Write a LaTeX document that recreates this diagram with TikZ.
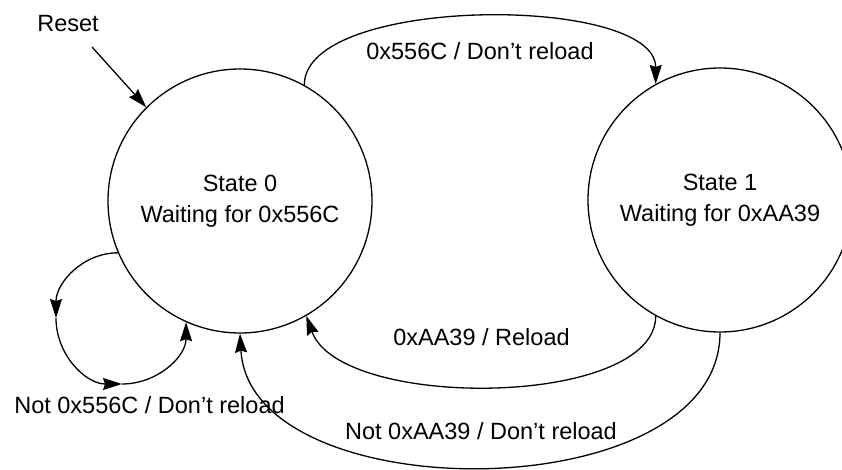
\documentclass[tikz,border=0pt]{standalone}
\usepackage{fontspec}
\setmainfont{Liberation Sans}
\usetikzlibrary{arrows.meta}
\begin{document}
\begin{tikzpicture}[x=1pt,y=1pt,
  every node/.style={font=\fontsize{23.5}{31}\selectfont},
  state/.style={circle,draw,line width=1.3pt,minimum size=264pt,inner sep=0pt,align=center},
  lbl/.style={anchor=base,inner sep=0pt},
  conn/.style={line width=1.3pt,-{Stealth[length=19pt,width=12pt,inset=2pt]}}]
\useasboundingbox (0,0) rectangle (842,-470);
% states
\node[state] (s0) at (240,-201) {State 0\\Waiting for 0x556C};
\node[state] (s1) at (720,-200) {State 1\\Waiting for 0xAA39};
% labels
\node[lbl] (lreset) at (68,-32) {Reset};
\node[lbl] (ltop) at (480,-60) {0x556C / Don’t reload};
\node[lbl] (lin) at (481.5,-345) {0xAA39 / Reload};
\node[lbl] (lout) at (481,-439) {Not 0xAA39 / Don’t reload};
\node[lbl] (lself) at (149.5,-413) {Not 0x556C / Don’t reload};
% helper coordinates
\coordinate (r) at (92,-47);
\coordinate (l1) at (56,-318);
\coordinate (l2) at (122,-384);
% reset
\draw[conn] (r) -- (s0.135);
% transitions
\draw[conn] (s0.61) .. controls +(0,90) and +(0,90) .. (s1.119);
\draw[conn] (s1.-119) .. controls +(0,-92) and +(34,-95) .. (s0.-60);
\draw[conn] (s1.-90) .. controls +(0,-178) and +(10,-178) .. (s0.-90);
% self loop
\draw[conn] (s0.203) to[out=180,in=90] (l1);
\draw[conn] (l1) to[out=270,in=180] (l2);
\draw[conn] (l2) to[out=0,in=270] (s0.246);
\end{tikzpicture}
\end{document}
